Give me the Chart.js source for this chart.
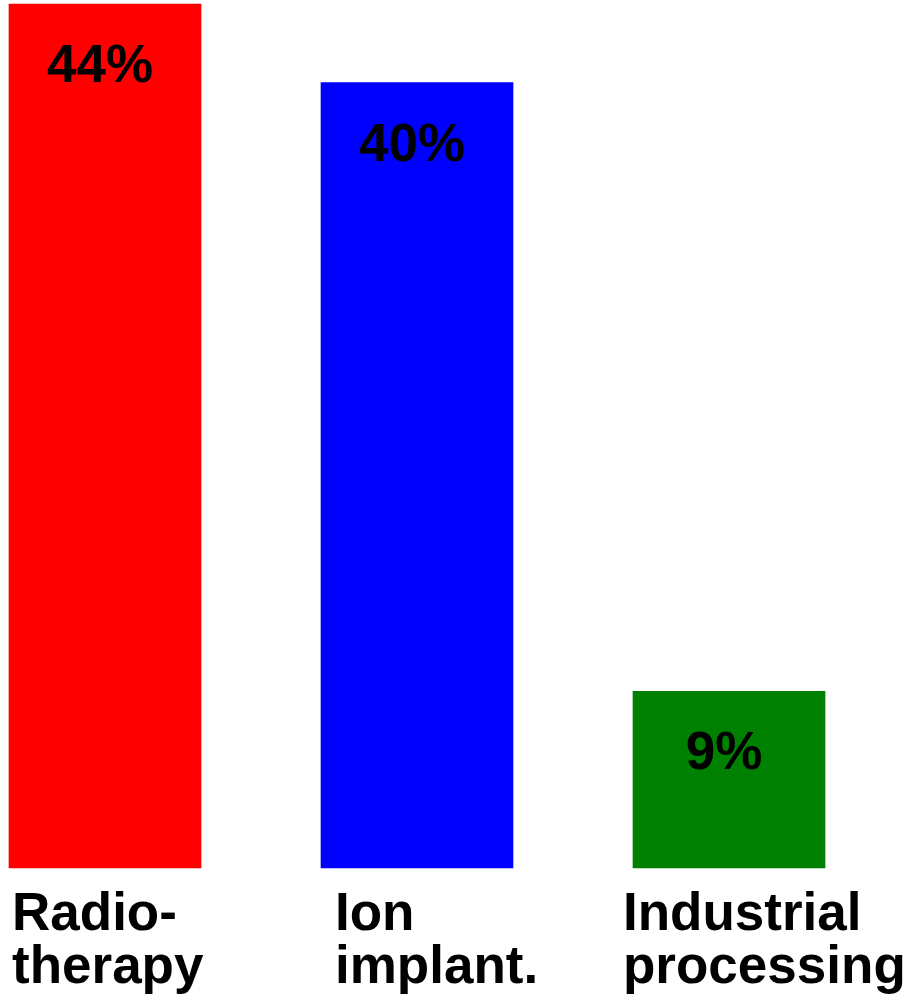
<!DOCTYPE html>
<html>
<head>
<meta charset="utf-8">
<title>Applications</title>
<script src="https://cdn.jsdelivr.net/npm/chart.js@4/dist/chart.umd.min.js"></script>
<style>
  html, body { margin: 0; padding: 0; background: #fff; }
  #wrap { position: relative; width: 906px; height: 998px; }
</style>
</head>
<body>
<div id="wrap"><canvas id="shareChart"></canvas></div>
<script>
// Share of use per application, in percent
const categories = [['Radio-', 'therapy'], ['Ion', 'implant.'], ['Industrial', 'processing']];
const shares = [44, 40, 9];
const barColors = ['#ff0000', '#0000ff', '#008000'];

const FONT = 'bold 53px "Liberation Sans", Arial, sans-serif';
// left edge of each category label, relative to its tick
const labelShift = [-93, -82, -106];

// Write the percentage inside the top of every bar
const valueLabels = {
  id: 'valueLabels',
  afterDatasetsDraw(chart) {
    const ctx = chart.ctx;
    const meta = chart.getDatasetMeta(0);
    ctx.save();
    ctx.font = FONT;
    ctx.fillStyle = '#000';
    ctx.textAlign = 'center';
    ctx.textBaseline = 'alphabetic';
    meta.data.forEach((bar, i) => {
      ctx.fillText(shares[i] + '%', bar.x - 5, bar.y + 78);
    });
    ctx.restore();
  }
};

// Left-aligned two-line category names under the bars
const categoryLabels = {
  id: 'categoryLabels',
  afterDraw(chart) {
    const ctx = chart.ctx;
    const x = chart.scales.x;
    ctx.save();
    ctx.font = FONT;
    ctx.fillStyle = '#000';
    ctx.textAlign = 'left';
    ctx.textBaseline = 'alphabetic';
    x.ticks.forEach((tick, i) => {
      const px = x.getPixelForTick(i) + labelShift[i];
      const lines = [].concat(x.getLabelForValue(tick.value));
      lines.forEach((line, j) => {
        ctx.fillText(line, px, x.top + 62 + j * 53);
      });
    });
    ctx.restore();
  }
};

const ctx = document.getElementById('shareChart').getContext('2d');

const shareChart = new Chart(ctx, {
  type: 'bar',
  data: {
    labels: categories,
    datasets: [{
      data: shares,
      backgroundColor: barColors,
      borderWidth: 0,
      barThickness: 192,
      clip: false,
    }],
  },
  options: {
    responsive: true,
    maintainAspectRatio: false,
    animation: false,
    layout: {
      padding: { left: 105, right: 177, top: 4, bottom: 0 },
    },
    plugins: {
      legend: { display: false },
      tooltip: { enabled: false },
    },
    scales: {
      x: {
        offset: false,
        grid: { display: false, drawTicks: false },
        border: { display: false },
        ticks: { display: false, autoSkip: false },
        afterFit(scale) {
          scale.height = 130;
          scale.paddingLeft = 0;
          scale.paddingRight = 0;
        },
      },
      y: {
        display: false,
        min: 0,
        max: 44,
      },
    },
  },
  plugins: [valueLabels, categoryLabels],
});
</script>
</body>
</html>
